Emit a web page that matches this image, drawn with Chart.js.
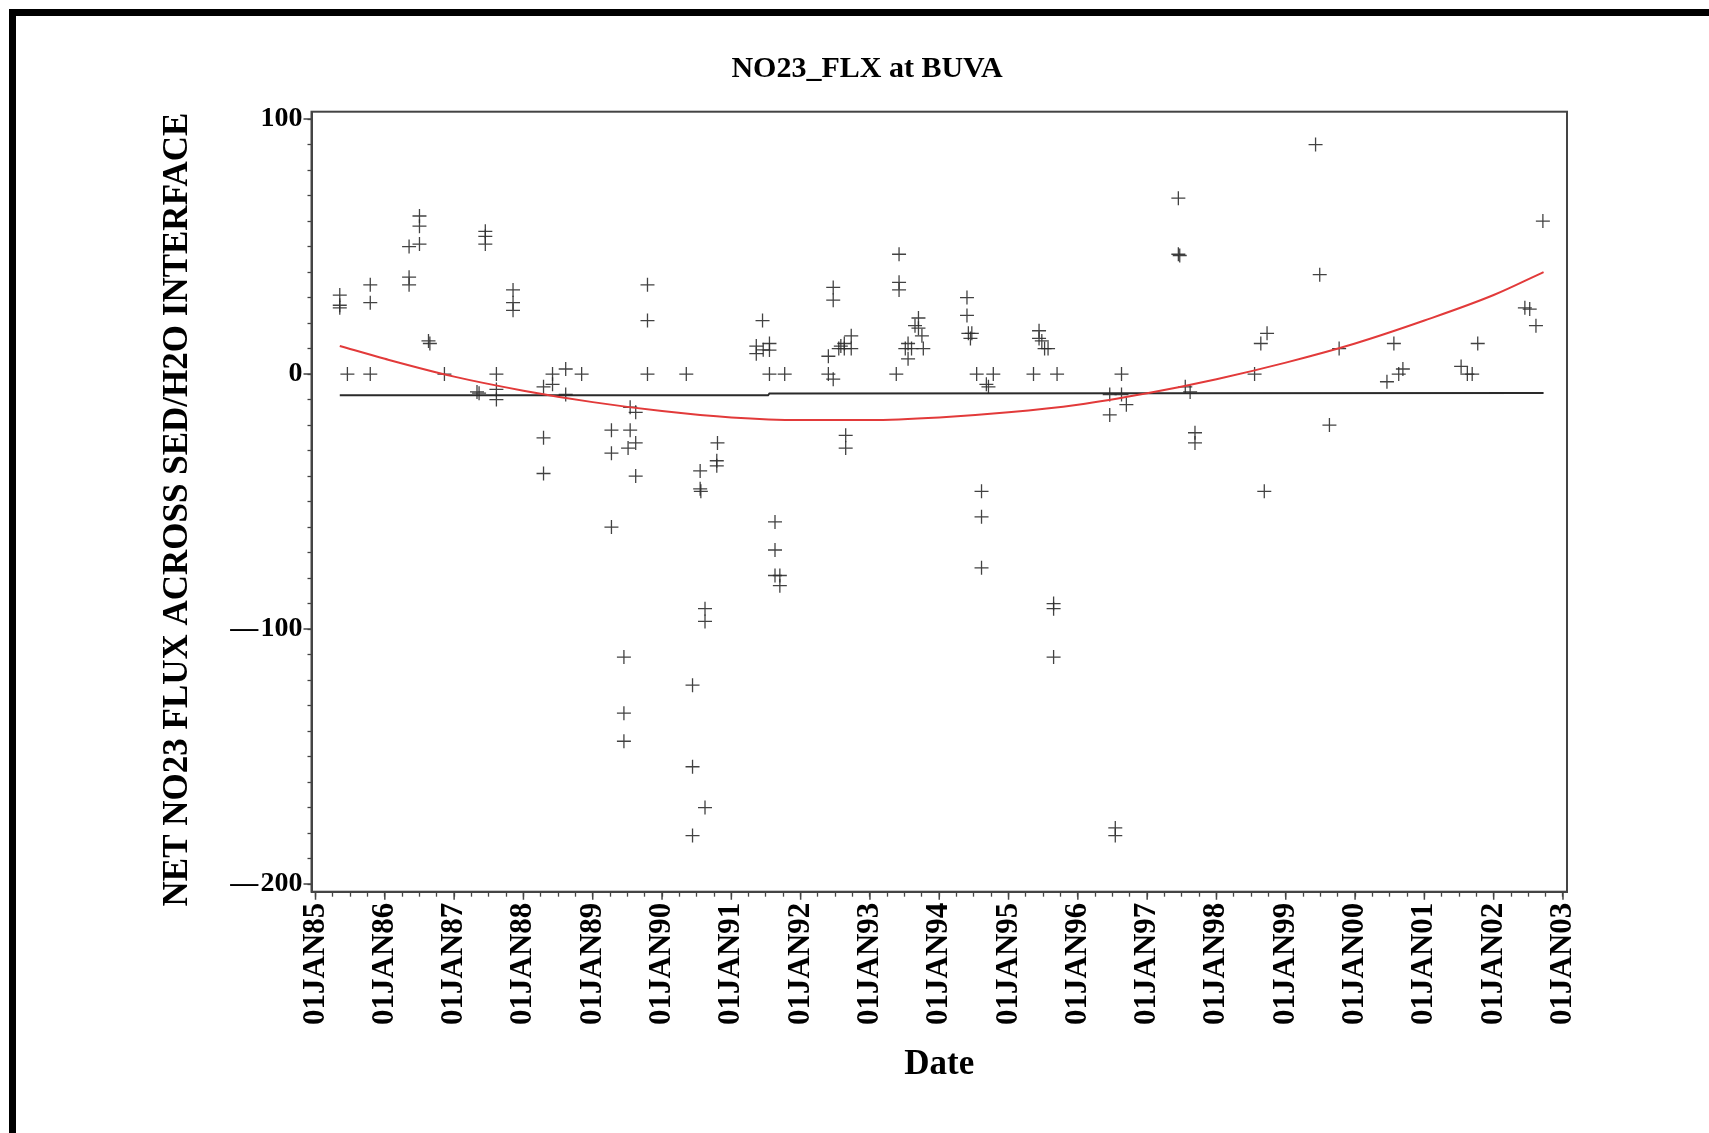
<!DOCTYPE html>
<html><head><meta charset="utf-8">
<script src="https://cdn.jsdelivr.net/npm/chart.js@4.4.1/dist/chart.umd.min.js"></script>
<style>
html,body{margin:0;padding:0;background:#fff;overflow:hidden;}
#frame{position:absolute;left:9px;top:9px;width:1800px;height:1200px;border-left:7px solid #000;border-top:7px solid #000;z-index:0;}
#wrap{position:absolute;left:0;top:0;width:1709px;height:1133px;z-index:1;}
</style></head><body>
<div id="frame"></div>
<div id="wrap"><canvas id="c" width="1709" height="1133"></canvas></div>
<script>
// ---- Data ----
// Observation dates (decimal years) and NO23 flux values
const obsDates = [
  1985.35,1985.35,1985.35,1985.46,1985.79,1985.79,1985.79,
  1986.35,1986.35,1986.35,1986.50,1986.50,1986.50,1986.63,1986.65,1986.86,
  1987.33,1987.36,1987.45,1987.45,1987.45,1987.61,1987.61,1987.61,1987.85,1987.85,1987.85,
  1988.29,1988.29,1988.29,1988.42,1988.42,1988.61,1988.61,1988.84,
  1989.27,1989.27,1989.27,1989.45,1989.45,1989.45,1989.54,1989.54,1989.51,1989.62,1989.62,1989.62,1989.79,1989.79,1989.79,
  1990.35,1990.44,1990.44,1990.44,1990.55,1990.55,1990.56,1990.62,1990.62,1990.62,1990.80,1990.79,1990.79,
  1991.36,1991.36,1991.45,1991.46,1991.55,1991.55,1991.55,1991.63,1991.63,1991.63,1991.70,1991.70,1991.77,
  1992.40,1992.40,1992.47,1992.47,1992.47,1992.55,1992.58,1992.63,1992.63,1992.65,1992.65,1992.73,1992.73,
  1993.38,1993.42,1993.42,1993.42,1993.51,1993.55,1993.55,1993.60,1993.65,1993.70,1993.70,1993.75,1993.77,
  1994.40,1994.40,1994.42,1994.45,1994.47,1994.54,1994.61,1994.61,1994.61,1994.68,1994.71,1994.78,
  1995.36,1995.44,1995.44,1995.48,1995.52,1995.57,1995.65,1995.65,1995.65,1995.70,
  1996.46,1996.46,1996.54,1996.54,1996.63,1996.63,1996.70,
  1997.45,1997.45,1997.47,1997.55,1997.62,1997.69,1997.69,
  1998.55,1998.64,1998.69,1998.73,
  1999.43,1999.49,1999.63,1999.77,
  2000.46,2000.56,2000.63,2000.69,
  2001.53,2001.62,2001.69,2001.77,
  2002.45,2002.52,2002.61,2002.71
];
const obsValues = [
  31,27,26,0,35,28,0,
  50,38,35,62,58,51,13,12,0,
  -7,-7.5,56,54,51,0,-6,-10,33,28,25,
  -5,-25,-39,0,-4,2,-8,0,
  -22,-31,-60,-111,-133,-144,-13,-22,-29,-15,-27,-40,35,21,0,
  0,-122,-154,-181,-38,-45,-46,-92,-97,-170,-27,-34,-36,
  11,8,21,9.5,12,9.4,0,-58,-69,-79,-79,-83,0,
  7,0,-2,34,29,10,11,12,10,-24,-29,15,10,
  0,47,36,33,10,12,6,10,19,22,18,15,10,
  30,23,16,14,16,0,-46,-56,-76,-4,-5,0,
  0,17,14,13,10,10,-90,-92,-111,0,
  -8,-16,-178,-181,0,-8,-12,
  69,47,46.5,-5,-7,-23,-27,
  0,12,-46,16,
  90,39,-20,10,
  -3,12,0,2,
  3,0,0,12,
  26,25.5,19,60
];
// Black reference line
const refDates  = [1985.35, 1991.53, 1991.55, 2002.72];
const refValues = [-8.3, -8.3, -7.6, -7.4];
// Red fitted curve (read at yearly positions)
const fitDates  = [1985.35,1986,1987,1988,1989,1990,1991,1992,1993,1994,1995,1996,1997,1998,1999,2000,2001,2002,2002.72];
const fitValues = [11,6,-1,-6.5,-11,-14.5,-17,-18,-18,-17,-15,-12,-7.5,-2,4.5,12,21,31,40];
// Tick labels
const xTickYears  = [1985,1986,1987,1988,1989,1990,1991,1992,1993,1994,1995,1996,1997,1998,1999,2000,2001,2002,2003];
const xTickLabels = ['01JAN85','01JAN86','01JAN87','01JAN88','01JAN89','01JAN90','01JAN91','01JAN92','01JAN93','01JAN94','01JAN95','01JAN96','01JAN97','01JAN98','01JAN99','01JAN00','01JAN01','01JAN02','01JAN03'];
const yTickValues = [100, 0, -100, -200];
const yTickLabels = ['100', '0', '\u2014\u200A100', '\u2014\u200A200'];

const FONT = "'Liberation Serif', 'DejaVu Serif', serif";
const AXIS_COLOR = '#444';

const obsPoints = obsDates.map((d, i) => ({x: d, y: obsValues[i]}));
const refPoints = refDates.map((d, i) => ({x: d, y: refValues[i]}));
const fitPoints = fitDates.map((d, i) => ({x: d, y: fitValues[i]}));

const framePlugin = {
  id: 'framePlugin',
  afterDraw(chart) {
    const {ctx, chartArea: a, scales: {x, y}} = chart;
    ctx.save();
    ctx.strokeStyle = AXIS_COLOR;
    ctx.lineWidth = 1.5;
    ctx.beginPath();
    for (const yr of xTickYears) {
      const px = x.getPixelForValue(yr);
      ctx.moveTo(px, a.bottom); ctx.lineTo(px, a.bottom + 8);
    }
    for (const v of yTickValues) {
      const py = y.getPixelForValue(v);
      ctx.moveTo(a.left, py); ctx.lineTo(a.left - 8, py);
    }
    ctx.stroke();
    ctx.lineWidth = 2;
    ctx.strokeRect(a.left, a.top, a.right - a.left, a.bottom - a.top);
    ctx.restore();
  }
};

new Chart(document.getElementById('c'), {
  type: 'scatter',
  data: {
    datasets: [
      {
        label: 'fit', type: 'line', data: fitPoints, order: 0,
        borderColor: '#e23a3a', borderWidth: 2, pointRadius: 0, fill: false,
        cubicInterpolationMode: 'monotone'
      },
      {
        label: 'ref', type: 'line', data: refPoints, order: 1,
        borderColor: '#2a2a2a', borderWidth: 2, pointRadius: 0, fill: false, tension: 0
      },
      {
        label: 'obs', data: obsPoints, order: 2, showLine: false,
        pointStyle: 'cross', pointRadius: 7, pointBorderWidth: 1.3,
        borderColor: 'rgba(45,45,45,0.9)', backgroundColor: 'rgba(0,0,0,0)'
      }
    ]
  },
  options: {
    responsive: false,
    animation: false,
    events: [],
    layout: { padding: { left: 167, right: 142, top: 30, bottom: 40 } },
    plugins: {
      legend: { display: false },
      tooltip: { enabled: false },
      title: {
        display: true, text: 'NO23_FLX at BUVA', color: '#000',
        font: { family: FONT, size: 30, weight: 'bold' },
        padding: { top: 21.5, bottom: 24.2 }
      }
    },
    scales: {
      x: {
        type: 'linear', position: 'bottom',
        min: 1984.942, max: 2003.058,
        afterBuildTicks(scale) {
          scale.ticks = scale.ticks.filter(t => Math.abs(t.value * 4 - Math.round(t.value * 4)) < 1e-6);
        },
        afterFit(scale) { scale.height = 201.3; scale.paddingLeft = 0; scale.paddingRight = 0; },
        ticks: {
          stepSize: 0.25, includeBounds: false, autoSkip: false, minRotation: 90, maxRotation: 90, padding: 6,
          color: '#000', font: { family: FONT, size: 31, weight: 'bold' },
          callback(v) {
            const i = xTickYears.findIndex(yr => Math.abs(yr - v) < 1e-6);
            return i >= 0 ? xTickLabels[i] : '';
          }
        },
        grid: { display: true, drawOnChartArea: false, drawTicks: true, tickLength: 5, tickColor: AXIS_COLOR, tickWidth: 1.3 },
        border: { display: true, color: AXIS_COLOR, width: 2 },
        title: {
          display: true, text: 'Date', color: '#000',
          font: { family: FONT, size: 35, weight: 'bold' },
          padding: { top: 0, bottom: 7 }
        }
      },
      y: {
        type: 'linear', position: 'left',
        min: -203, max: 102.9,
        afterBuildTicks(scale) {
          scale.ticks = scale.ticks.filter(t => Math.abs(t.value / 10 - Math.round(t.value / 10)) < 1e-6);
        },
        afterFit(scale) { scale.width = 144.5; scale.paddingTop = 0; scale.paddingBottom = 0; },
        ticks: {
          stepSize: 10, includeBounds: false, autoSkip: false, padding: 5,
          color: '#000', font: { family: FONT, size: 28, weight: 'bold' },
          callback(v) {
            const i = yTickValues.findIndex(t => Math.abs(t - v) < 1e-6);
            return i >= 0 ? yTickLabels[i] : '';
          }
        },
        grid: { display: true, drawOnChartArea: false, drawTicks: true, tickLength: 4, tickColor: AXIS_COLOR, tickWidth: 1.3 },
        border: { display: true, color: AXIS_COLOR, width: 2 },
        title: {
          display: true, text: 'NET NO23 FLUX ACROSS SED/H2O INTERFACE \u2009', color: '#000',
          font: { family: FONT, size: 35, weight: 'bold', lineHeight: 0.6 },
          padding: { top: 0.8, bottom: 0 }
        }
      }
    }
  },
  plugins: [framePlugin]
});
</script></body></html>
